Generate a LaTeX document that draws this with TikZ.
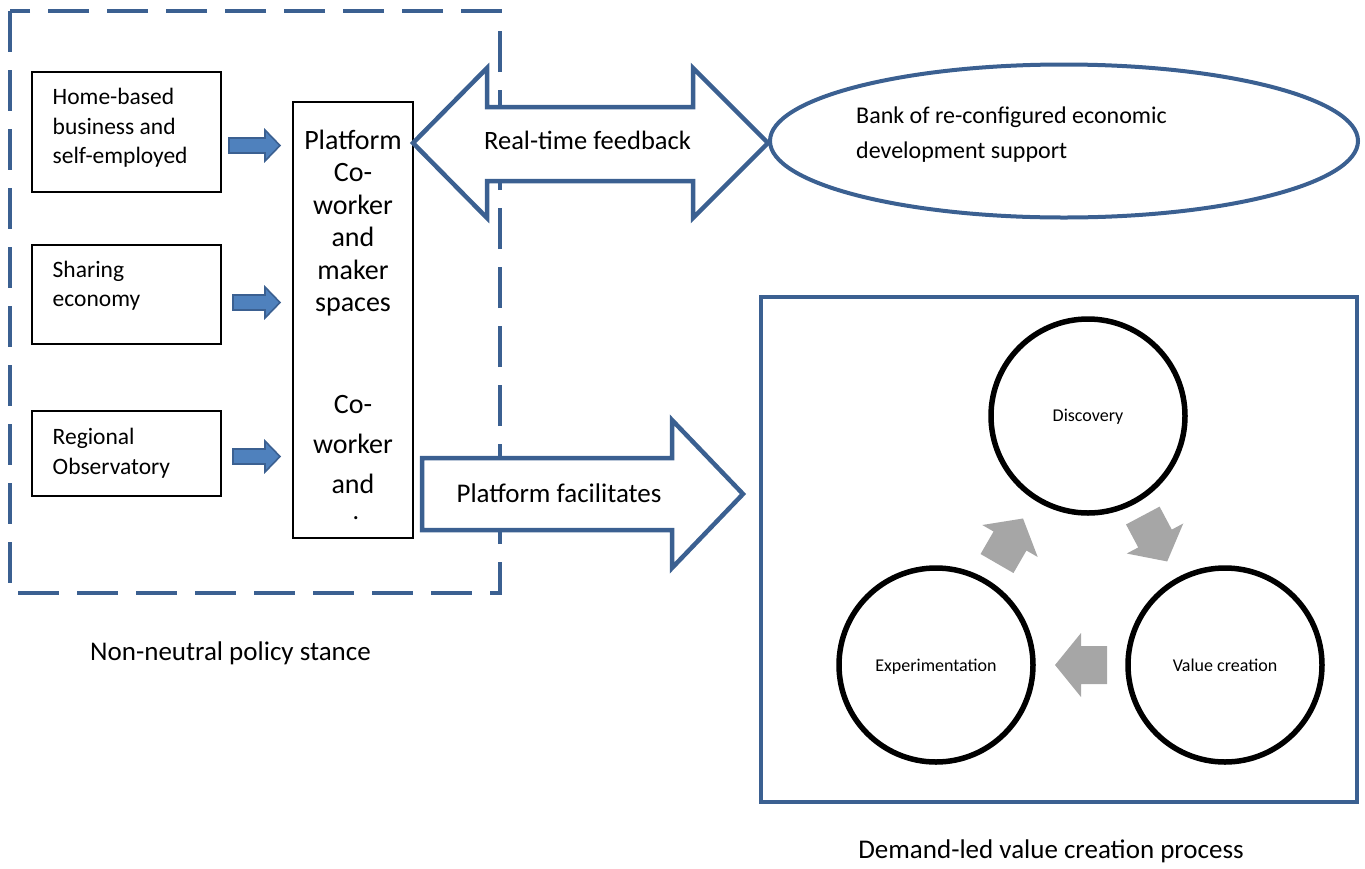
\documentclass[tikz,border=0pt]{standalone}
\usepackage{fontspec}
\setmainfont{Carlito}
\usetikzlibrary{shapes.geometric}
\definecolor{dblue}{RGB}{59,96,145}
\definecolor{lblue}{RGB}{79,129,189}
\definecolor{garrow}{RGB}{166,166,166}
\begin{document}
\begin{tikzpicture}[x=1pt,y=-1pt,
  boxstyle/.style={draw=black, line width=2.2pt, inner sep=0pt},
  bigarrow/.style={draw=dblue, line width=4.5pt, fill=white, line join=miter},
  sarrow/.style={fill=lblue, draw=dblue, line width=1.6pt},
  garr/.style={fill=garrow},
  circ/.style={draw=black, line width=5.5pt, circle, minimum size=194pt, inner sep=0pt},
  ltxt/.style={inner sep=0pt, anchor=base west, font=\fontsize{23.5}{28}\selectfont},
  ptxt/.style={inner sep=0pt, anchor=base, font=\fontsize{28}{33}\selectfont},
  ctxt/.style={inner sep=0pt, anchor=base, font=\fontsize{18}{22}\selectfont},
  captxt/.style={inner sep=0pt, anchor=base, font=\fontsize{27}{32}\selectfont}
]
\useasboundingbox (0,0) rectangle (1365,868);

% dashed frame
\draw[dblue, line width=4pt, dash pattern=on 41pt off 18pt] (10,11) rectangle (500,593);

% left boxes
\node[boxstyle, minimum width=189pt, minimum height=120pt] (hb) at (126.5,132) {};
\node[boxstyle, minimum width=189pt, minimum height=99pt] (se) at (126.5,294.5) {};
\node[boxstyle, minimum width=189pt, minimum height=85pt] (ro) at (126.5,453.5) {};

\node[ltxt] (hb1) at (52.5,104) {Home-based};
\node[ltxt] (hb2) at (52.5,134) {business and};
\node[ltxt] (hb3) at (52.5,163) {self-employed};
\node[ltxt] (se1) at (52.5,277) {Sharing};
\node[ltxt] (se2) at (52.5,306.5) {economy};
\node[ltxt] (ro1) at (52.5,444) {Regional};
\node[ltxt] (ro2) at (52.5,474) {Observatory};

% platform box
\node[draw=black, line width=2pt, minimum width=120pt, minimum height=436pt, inner sep=0pt] (plat) at (353,320) {};
\node[ptxt] (pl1) at (353,149) {Platform};
\node[ptxt] (pl2) at (353,181.5) {Co-};
\node[ptxt] (pl3) at (353,214) {worker};
\node[ptxt] (pl4) at (353,246.5) {and};
\node[ptxt] (pl5) at (353,279) {maker};
\node[ptxt] (pl6) at (353,311.5) {spaces};
\node[ptxt] (pl7) at (353,413) {Co-};
\node[ptxt] (pl8) at (353,453) {worker};
\node[ptxt] (pl9) at (353,493) {and};
\node[inner sep=0pt, anchor=base, font=\fontsize{26}{30}\selectfont] (pl10) at (356,519) {.};

% small arrows
\draw[sarrow] (229,138) -- (265,138) -- (265,130) -- (280,145.5) -- (265,161) -- (265,153) -- (229,153) -- cycle;
\draw[sarrow] (233,295) -- (265,295) -- (265,287) -- (280,302.5) -- (265,318) -- (265,310) -- (233,310) -- cycle;
\draw[sarrow] (233,449) -- (265,449) -- (265,441) -- (280,456.5) -- (265,472) -- (265,464) -- (233,464) -- cycle;

% double arrow
\draw[bigarrow] (413,143) -- (487,68) -- (487,107) -- (693,107) -- (693,68) -- (768,143)
  -- (693,218) -- (693,181) -- (487,181) -- (487,218) -- cycle;
\node[inner sep=0pt, anchor=base, font=\fontsize{26.5}{31}\selectfont] (rtf) at (587.5,149) {Real-time feedback};

% platform facilitates arrow
\draw[bigarrow] (422,458) -- (672,458) -- (672,420) -- (743,494) -- (672,568) -- (672,530) -- (422,530) -- cycle;
\node[inner sep=0pt, anchor=base, font=\fontsize{27}{32}\selectfont] (pf) at (559,502) {Platform facilitates};

% ellipse
\node[draw=dblue, line width=4pt, ellipse, minimum width=588pt, minimum height=153pt, inner sep=0pt] (bank) at (1064,141) {};
\node[inner sep=0pt, anchor=base west, font=\fontsize{24}{28}\selectfont] (bank1) at (856,123) {Bank of re-configured economic};
\node[inner sep=0pt, anchor=base west, font=\fontsize{24}{28}\selectfont] (bank2) at (856,158) {development support};

% right frame
\node[draw=dblue, line width=4.5pt, minimum width=596pt, minimum height=505pt, inner sep=0pt] (proc) at (1059,549.5) {};

% circles
\node[circ] (disc) at (1088,416) {};
\node[circ] (expt) at (936,665) {};
\node[circ] (valc) at (1225,665) {};
\node[ctxt] (disct) at (1088,421.5) {Discovery};
\node[ctxt] (exptt) at (936,671) {Experimentation};
\node[ctxt] (valct) at (1225,671) {Value creation};

% gray cycle arrows
\fill[garr, shift={(1010,541)}, rotate=60] (-26,-19) -- (0,-19) -- (0,-32) -- (26,0) -- (0,32) -- (0,19) -- (-26,19) -- cycle;
\fill[garr, shift={(1155,538.5)}, rotate=-62] (-26,-19) -- (0,-19) -- (0,-32) -- (26,0) -- (0,32) -- (0,19) -- (-26,19) -- cycle;
\fill[garr, shift={(1081,665)}, rotate=180] (-26,-19) -- (0,-19) -- (0,-32) -- (26,0) -- (0,32) -- (0,19) -- (-26,19) -- cycle;

% captions
\node[captxt] (cap1) at (230.5,660) {Non-neutral policy stance};
\node[captxt] (cap2) at (1051,858) {Demand-led value creation process};
\end{tikzpicture}
\end{document}
